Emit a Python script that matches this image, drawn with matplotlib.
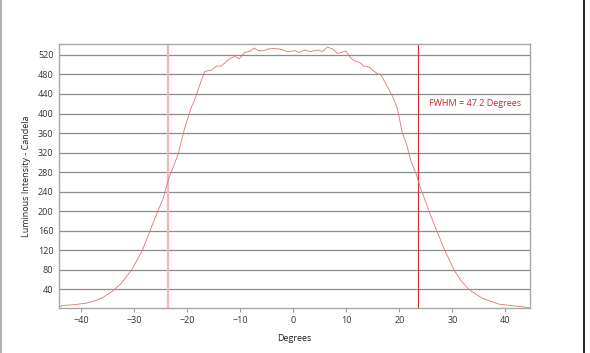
import matplotlib.pyplot as plt
from matplotlib.lines import Line2D

# Angle (degrees) and luminous intensity (candela)
degrees = [-44.3, -43.6, -41.2, -39.0, -37.4, -36.0, -34.3, -32.5, -30.5, -28.6,
           -27.1, -25.5, -24.6, -23.6, -22.6, -21.7, -20.5, -19.2, -18.6, -17.6,
           -16.7, -15.5, -14.5, -13.6, -12.3, -11.1, -10.2, -9.2, -8.3, -7.3,
           -6.7, -5.8, -4.8, -3.6, -2.6, -1.7, -0.8, 0.2, 1.1, 2.1,
           3.0, 3.9, 4.6, 5.5, 6.4, 7.4, 8.3, 9.0, 9.9, 10.8,
           11.5, 12.1, 12.7, 13.3, 14.3, 14.9, 15.8, 16.5, 17.4, 18.7,
           19.6, 20.5, 21.5, 22.1, 23.1, 24.0, 25.6, 27.1, 28.7, 30.3,
           31.6, 33.1, 35.6, 38.7, 41.9, 44.4]
candela = [3, 7, 9, 12, 17, 23, 35, 52, 80, 117,
           158, 202, 225, 264, 292, 318, 370, 414, 428, 460,
           486, 489, 497, 497, 510, 517, 512, 525, 527, 534,
           529, 528, 532, 533, 532, 529, 526, 529, 525, 530,
           527, 528, 530, 527, 536, 532, 523, 525, 528, 514,
           508, 506, 503, 497, 495, 489, 482, 479, 462, 435,
           411, 363, 332, 305, 278, 247, 200, 158, 117, 80,
           58, 40, 22, 10, 6, 3]

fwhm = 47.2
half_left, half_right = -fwhm / 2, fwhm / 2
x_ticks = [-40, -30, -20, -10, 0, 10, 20, 30, 40]
y_ticks = list(range(40, 521, 40))

plt.rcParams['font.family'] = ['Open Sans', 'DejaVu Sans']

fig = plt.figure(figsize=(5.9, 3.53), dpi=100)
ax = fig.add_axes([0.1, 0.1275, 0.798, 0.7475])

ax.set_xlim(-44.2, 44.6)
ax.set_ylim(2, 542)
ax.set_yticks(y_ticks)
ax.set_xticks(x_ticks)
ax.tick_params(axis='y', length=0, labelsize=6.5, pad=4, colors='#333333')
ax.tick_params(axis='x', length=3, width=0.8, labelsize=6.5, pad=3,
               colors='#333333', color='#999999')
ax.grid(axis='y', color='#8c8c8c', linewidth=0.9)
ax.set_axisbelow(True)
for s in ax.spines.values():
    s.set_color('#a8a8a8')
    s.set_linewidth(1.0)

ax.axvline(half_left, color='#f5b5b5', linewidth=1.6)
ax.axvline(half_right, color='#d42a2a', linewidth=0.8)
ax.plot(degrees, candela, color='#e27272', linewidth=0.6)

ax.text(25.6, 420, 'FWHM = 47.2 Degrees', color='#cc2222', fontsize=6.5,
        va='center', ha='left')

ax.set_xlabel('Degrees', fontsize=6.5, color='#222222', labelpad=6)
ax.set_ylabel('Luminous Intensity - Candela', fontsize=6.5, color='#222222',
              labelpad=5)

# screenshot frame edges
fig.add_artist(Line2D([0.002, 0.002], [0, 1], color='#b0b0b0', linewidth=1.5))
fig.add_artist(Line2D([0.99, 0.99], [0, 1], color='#000000', linewidth=1.2))

plt.savefig('out.png', dpi=100)
